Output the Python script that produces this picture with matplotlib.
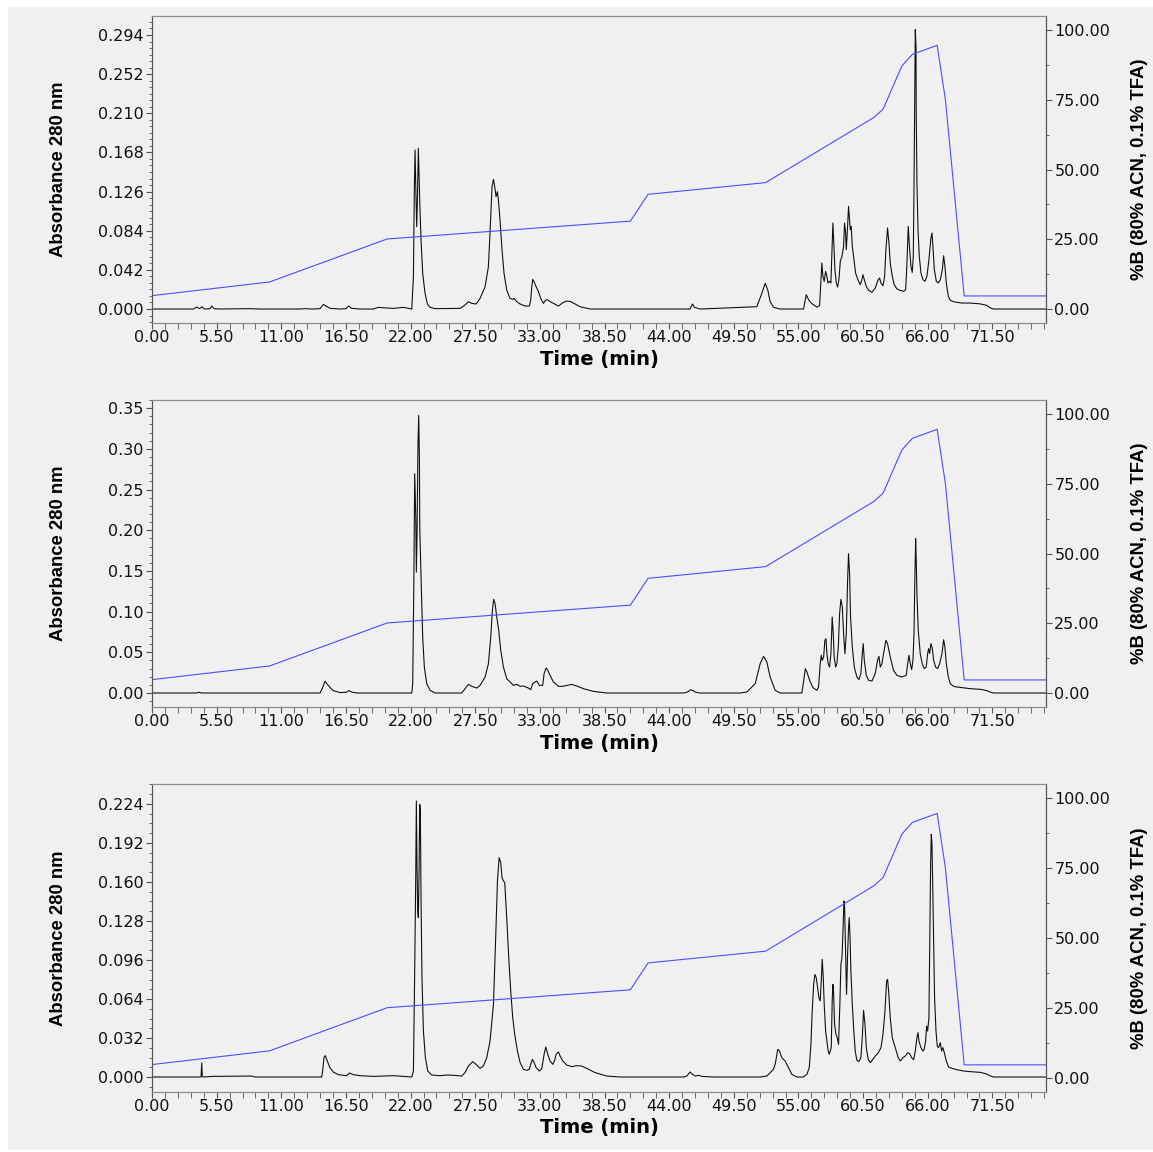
import numpy as np
import matplotlib
matplotlib.use("Agg")
import matplotlib.pyplot as plt
from matplotlib.ticker import MultipleLocator, FormatStrFormatter
from matplotlib.patches import Rectangle
from matplotlib import font_manager

# %B gradient program (right axis), same for all three runs
grad_time = [0.0, 10.0, 20.0, 40.7, 42.2, 52.2, 61.4, 62.2, 63.8, 64.7, 66.8, 67.5, 69.1, 76.06]
grad_pct = [4.8, 9.7, 25.1, 31.5, 41.1, 45.3, 68.6, 71.6, 87.1, 91.3, 94.5, 75.1, 4.7, 4.7]

# absorbance traces: (time [min], A280)
run1 = [
    (0.00, 0.0), (3.52, 0.0), (3.80, 0.0021), (4.03, 0.0004), (4.26, 0.0025), (4.43, 0.0), (4.94, 0.0004),
    (5.08, 0.0032), (5.28, 0.0004), (5.79, 0.0), (8.34, 0.0004), (9.19, 0.0), (12.60, 0.0), (13.02, 0.0004),
    (13.59, 0.0), (14.30, 0.0004), (14.58, 0.0050), (14.81, 0.0032), (15.15, 0.0007), (16.00, 0.0),
    (16.51, 0.0004), (16.71, 0.0032), (16.99, 0.0007), (17.70, 0.0), (18.84, 0.0), (19.26, 0.0018),
    (19.97, 0.0011), (20.54, 0.0007), (21.39, 0.0018), (21.96, 0.0004), (22.10, 0.0),
    (22.24, 0.0347), (22.32, 0.1313), (22.38, 0.1706), (22.44, 0.1313), (22.52, 0.0884), (22.58, 0.1170),
    (22.66, 0.1724), (22.75, 0.1313), (22.80, 0.1062), (22.89, 0.0740), (23.03, 0.0383), (23.23, 0.0168),
    (23.43, 0.0054), (23.66, 0.0018), (24.08, 0.0004), (26.21, 0.0007), (26.63, 0.0043), (26.92, 0.0079),
    (27.20, 0.0061), (27.57, 0.0054), (27.91, 0.0114), (28.34, 0.0240), (28.62, 0.0454), (28.82, 0.0991),
    (28.93, 0.1313), (29.05, 0.1391), (29.16, 0.1313), (29.27, 0.1205), (29.39, 0.1259), (29.47, 0.1170),
    (29.61, 0.0955), (29.78, 0.0633), (29.95, 0.0383), (30.18, 0.0204), (30.46, 0.0114), (30.69, 0.0104),
    (30.83, 0.0114), (31.03, 0.0079), (31.32, 0.0054), (31.74, 0.0032), (32.11, 0.0032), (32.22, 0.0097),
    (32.31, 0.0240), (32.39, 0.0318), (32.51, 0.0293), (32.68, 0.0240), (32.88, 0.0186), (33.07, 0.0114),
    (33.30, 0.0061), (33.50, 0.0097), (33.67, 0.0097), (33.87, 0.0079), (34.15, 0.0061), (34.58, 0.0032),
    (34.95, 0.0068), (35.29, 0.0086), (35.63, 0.0079), (36.00, 0.0054), (36.42, 0.0025), (37.27, 0.0),
    (45.78, 0.0), (45.98, 0.0054), (46.15, 0.0018), (46.64, 0.0), (51.46, 0.0025), (51.88, 0.0168),
    (52.17, 0.0275), (52.39, 0.0204), (52.59, 0.0079), (52.88, 0.0018), (53.44, 0.0),
    (55.43, 0.0), (55.58, 0.0100), (55.66, 0.0154), (55.86, 0.0100), (56.14, 0.0057), (56.57, 0.0021),
    (56.80, 0.0036), (56.91, 0.0315), (56.99, 0.0494), (57.08, 0.0351), (57.19, 0.0297), (57.31, 0.0404),
    (57.42, 0.0351), (57.51, 0.0279), (57.65, 0.0297), (57.76, 0.0279), (57.85, 0.0637), (57.93, 0.0923),
    (58.02, 0.0672), (58.10, 0.0422), (58.22, 0.0279), (58.33, 0.0236), (58.44, 0.0315), (58.56, 0.0512),
    (58.70, 0.0565), (58.84, 0.0672), (58.92, 0.0923), (59.01, 0.0816), (59.07, 0.0637), (59.18, 0.0887),
    (59.26, 0.1102), (59.35, 0.0959), (59.41, 0.0851), (59.49, 0.0887), (59.58, 0.0672), (59.69, 0.0565),
    (59.86, 0.0386), (60.06, 0.0315), (60.26, 0.0261), (60.40, 0.0315), (60.48, 0.0368), (60.60, 0.0315),
    (60.77, 0.0243), (60.97, 0.0200), (61.25, 0.0179), (61.53, 0.0225), (61.76, 0.0308), (61.90, 0.0333),
    (62.02, 0.0279), (62.19, 0.0250), (62.33, 0.0351), (62.44, 0.0637), (62.58, 0.0869), (62.70, 0.0708),
    (62.81, 0.0494), (62.98, 0.0351), (63.15, 0.0261), (63.38, 0.0215), (63.66, 0.0200), (63.95, 0.0190),
    (64.12, 0.0207), (64.23, 0.0494), (64.34, 0.0887), (64.46, 0.0637), (64.57, 0.0458), (64.68, 0.0393),
    (64.77, 0.0565), (64.83, 0.1316), (64.88, 0.2068), (64.94, 0.2998), (65.00, 0.2819), (65.02, 0.2103),
    (65.08, 0.1352), (65.17, 0.0851), (65.28, 0.0565), (65.42, 0.0386), (65.59, 0.0315), (65.76, 0.0297),
    (65.93, 0.0351), (66.10, 0.0529), (66.27, 0.0762), (66.36, 0.0816), (66.44, 0.0672), (66.56, 0.0422),
    (66.73, 0.0297), (66.90, 0.0279), (67.07, 0.0315), (67.24, 0.0422), (67.35, 0.0572), (67.46, 0.0458),
    (67.58, 0.0279), (67.75, 0.0136), (67.92, 0.0093), (68.20, 0.0079), (68.49, 0.0072), (68.91, 0.0064),
    (69.62, 0.0064), (70.47, 0.0055), (71.00, 0.0040), (71.35, 0.0010), (71.60, 0.0), (76.06, 0.0),
]

run2 = [
    (0.00, 0.0), (3.80, 0.0), (4.00, 0.0010), (4.20, 0.0), (14.30, 0.0), (14.50, 0.0060), (14.72, 0.0145),
    (14.95, 0.0100), (15.40, 0.0030), (16.00, 0.0005), (16.55, 0.0010), (16.75, 0.0030), (17.00, 0.0010),
    (17.50, 0.0), (22.10, 0.0),
    (22.18, 0.0115), (22.27, 0.1261), (22.35, 0.2694), (22.44, 0.2162), (22.49, 0.1486), (22.55, 0.1957),
    (22.63, 0.3063), (22.69, 0.3411), (22.75, 0.2899), (22.78, 0.2039), (22.83, 0.1753), (22.92, 0.1261),
    (23.03, 0.0688), (23.17, 0.0319), (23.37, 0.0115), (23.66, 0.0033), (24.08, 0.0), (26.35, 0.0),
    (26.63, 0.0053), (26.92, 0.0106), (27.20, 0.0082), (27.63, 0.0061), (27.91, 0.0094), (28.34, 0.0197),
    (28.62, 0.0360), (28.82, 0.0688), (28.96, 0.1016), (29.07, 0.1151), (29.19, 0.1097), (29.33, 0.0934),
    (29.50, 0.0770), (29.67, 0.0524), (29.90, 0.0319), (30.18, 0.0176), (30.61, 0.0115), (30.75, 0.0094),
    (31.03, 0.0106), (31.32, 0.0082), (31.60, 0.0086), (32.02, 0.0061), (32.22, 0.0041), (32.39, 0.0115),
    (32.59, 0.0135), (32.73, 0.0147), (32.96, 0.0094), (33.24, 0.0094), (33.36, 0.0238), (33.53, 0.0307),
    (33.67, 0.0278), (33.87, 0.0217), (34.15, 0.0135), (34.58, 0.0082), (34.95, 0.0082), (35.43, 0.0098),
    (35.71, 0.0106), (36.14, 0.0086), (36.71, 0.0053), (37.56, 0.0020), (38.69, 0.0), (45.22, 0.0),
    (45.56, 0.0012), (45.84, 0.0041), (46.07, 0.0025), (46.29, 0.0008), (46.64, 0.0), (50.04, 0.0),
    (50.61, 0.0012), (51.32, 0.0115), (51.74, 0.0360), (52.03, 0.0450), (52.31, 0.0381), (52.59, 0.0197),
    (53.02, 0.0033), (53.44, 0.0),
    (55.29, 0.0), (55.43, 0.0135), (55.58, 0.0299), (55.72, 0.0258), (55.95, 0.0156), (56.23, 0.0066),
    (56.57, 0.0033), (56.71, 0.0074), (56.85, 0.0360), (56.94, 0.0463), (57.02, 0.0401), (57.14, 0.0442),
    (57.25, 0.0647), (57.34, 0.0667), (57.42, 0.0483), (57.53, 0.0360), (57.65, 0.0319), (57.76, 0.0483),
    (57.87, 0.0934), (57.96, 0.0729), (58.04, 0.0442), (58.16, 0.0319), (58.27, 0.0360), (58.39, 0.0565),
    (58.50, 0.0975), (58.61, 0.1151), (58.73, 0.1057), (58.84, 0.0729), (58.95, 0.0483), (59.07, 0.0729),
    (59.18, 0.1384), (59.26, 0.1712), (59.35, 0.1466), (59.43, 0.0934), (59.58, 0.0565), (59.75, 0.0319),
    (59.97, 0.0197), (60.14, 0.0164), (60.31, 0.0238), (60.43, 0.0483), (60.51, 0.0606), (60.60, 0.0401),
    (60.77, 0.0217), (60.97, 0.0156), (61.25, 0.0147), (61.53, 0.0238), (61.73, 0.0401), (61.85, 0.0450),
    (61.96, 0.0319), (62.10, 0.0360), (62.24, 0.0483), (62.44, 0.0647), (62.58, 0.0606), (62.81, 0.0442),
    (63.09, 0.0278), (63.38, 0.0217), (63.80, 0.0197), (64.17, 0.0217), (64.29, 0.0360), (64.40, 0.0463),
    (64.51, 0.0360), (64.63, 0.0287), (64.74, 0.0401), (64.83, 0.0729), (64.91, 0.1466), (64.97, 0.1896),
    (65.02, 0.1630), (65.08, 0.1220), (65.19, 0.0770), (65.36, 0.0483), (65.53, 0.0360), (65.70, 0.0299),
    (65.87, 0.0319), (65.99, 0.0483), (66.07, 0.0545), (66.16, 0.0483), (66.27, 0.0606), (66.39, 0.0545),
    (66.50, 0.0401), (66.67, 0.0319), (66.84, 0.0299), (67.01, 0.0360), (67.21, 0.0483), (67.35, 0.0655),
    (67.46, 0.0565), (67.58, 0.0360), (67.75, 0.0197), (67.92, 0.0115), (68.20, 0.0082), (68.49, 0.0074),
    (68.91, 0.0066), (69.62, 0.0053), (70.50, 0.0045), (71.00, 0.0030), (71.35, 0.0010), (71.60, 0.0),
    (76.06, 0.0),
]

run3 = [
    (0.00, 0.0), (3.52, 0.0), (4.17, 0.0), (4.23, 0.0115), (4.28, 0.0005), (4.37, 0.0), (5.08, 0.0005),
    (8.48, 0.0008), (8.77, 0.0), (14.44, 0.0), (14.53, 0.0060), (14.64, 0.0164), (14.75, 0.0175),
    (14.92, 0.0129), (15.15, 0.0074), (15.43, 0.0041), (15.86, 0.0019), (16.57, 0.0011), (16.79, 0.0033),
    (17.14, 0.0019), (17.70, 0.0011), (18.84, 0.0005), (20.54, 0.0011), (22.10, 0.0),
    (22.24, 0.0049), (22.35, 0.0870), (22.44, 0.1663), (22.49, 0.2265), (22.55, 0.1690), (22.61, 0.1362),
    (22.66, 0.1307), (22.72, 0.1690), (22.78, 0.2237), (22.83, 0.2183), (22.89, 0.1444), (22.97, 0.0815),
    (23.09, 0.0377), (23.26, 0.0159), (23.46, 0.0049), (23.80, 0.0016), (24.51, 0.0011), (25.07, 0.0016),
    (25.64, 0.0014), (26.35, 0.0008), (26.63, 0.0036), (26.92, 0.0090), (27.29, 0.0126), (27.57, 0.0104),
    (27.91, 0.0071), (28.19, 0.0090), (28.48, 0.0159), (28.76, 0.0295), (29.05, 0.0596), (29.24, 0.1143),
    (29.39, 0.1608), (29.53, 0.1800), (29.67, 0.1759), (29.78, 0.1636), (29.90, 0.1608), (30.01, 0.1595),
    (30.18, 0.1307), (30.35, 0.0979), (30.52, 0.0706), (30.69, 0.0487), (30.86, 0.0350), (31.09, 0.0213),
    (31.32, 0.0118), (31.60, 0.0063), (31.88, 0.0055), (32.11, 0.0063), (32.22, 0.0104), (32.37, 0.0145),
    (32.51, 0.0118), (32.68, 0.0077), (32.96, 0.0049), (33.16, 0.0068), (33.36, 0.0186), (33.50, 0.0246),
    (33.67, 0.0186), (33.87, 0.0131), (34.10, 0.0104), (34.24, 0.0131), (34.38, 0.0186), (34.58, 0.0205),
    (34.72, 0.0172), (34.95, 0.0131), (35.29, 0.0098), (35.71, 0.0085), (36.14, 0.0093), (36.56, 0.0090),
    (36.99, 0.0071), (37.70, 0.0036), (38.69, 0.0008), (39.83, 0.0), (45.22, 0.0), (45.50, 0.0008),
    (45.78, 0.0041), (45.98, 0.0022), (46.21, 0.0008), (46.49, 0.0014), (46.78, 0.0005), (47.77, 0.0),
    (51.74, 0.0), (52.31, 0.0008), (52.59, 0.0036), (52.87, 0.0063), (53.02, 0.0104), (53.24, 0.0227),
    (53.39, 0.0213), (53.58, 0.0159), (53.87, 0.0131), (54.15, 0.0077), (54.44, 0.0022), (54.86, 0.0),
    (55.43, 0.0),
    (55.72, 0.0022), (55.92, 0.0077), (56.06, 0.0268), (56.17, 0.0542), (56.29, 0.0760), (56.40, 0.0842),
    (56.51, 0.0815), (56.63, 0.0733), (56.74, 0.0651), (56.85, 0.0624), (56.94, 0.0788), (57.02, 0.0965),
    (57.11, 0.0815), (57.19, 0.0596), (57.31, 0.0377), (57.42, 0.0295), (57.53, 0.0213), (57.62, 0.0186),
    (57.70, 0.0213), (57.79, 0.0241), (57.87, 0.0624), (57.93, 0.0760), (57.99, 0.0692), (58.07, 0.0432),
    (58.19, 0.0350), (58.30, 0.0323), (58.41, 0.0268), (58.53, 0.0624), (58.61, 0.0924), (58.70, 0.0979),
    (58.78, 0.1171), (58.87, 0.1444), (58.92, 0.1417), (58.98, 0.1143), (59.04, 0.0842), (59.09, 0.0678),
    (59.18, 0.1006), (59.26, 0.1225), (59.32, 0.1307), (59.38, 0.1171), (59.46, 0.0870), (59.58, 0.0596),
    (59.69, 0.0405), (59.83, 0.0213), (59.97, 0.0137), (60.14, 0.0126), (60.31, 0.0159), (60.43, 0.0323),
    (60.54, 0.0547), (60.66, 0.0432), (60.77, 0.0241), (60.94, 0.0145), (61.11, 0.0118), (61.34, 0.0145),
    (61.53, 0.0172), (61.73, 0.0191), (61.87, 0.0213), (62.02, 0.0241), (62.19, 0.0350), (62.36, 0.0542),
    (62.50, 0.0788), (62.58, 0.0801), (62.67, 0.0706), (62.81, 0.0487), (62.98, 0.0323), (63.15, 0.0268),
    (63.32, 0.0213), (63.49, 0.0159), (63.66, 0.0131), (63.89, 0.0159), (64.09, 0.0172), (64.29, 0.0200),
    (64.46, 0.0191), (64.63, 0.0159), (64.80, 0.0142), (64.94, 0.0213), (65.08, 0.0323), (65.17, 0.0364),
    (65.25, 0.0295), (65.42, 0.0241), (65.59, 0.0213), (65.70, 0.0227), (65.82, 0.0295), (65.90, 0.0418),
    (65.99, 0.0377), (66.10, 0.0487), (66.19, 0.1253), (66.24, 0.1718), (66.30, 0.1991), (66.36, 0.1909),
    (66.41, 0.1636), (66.50, 0.1089), (66.58, 0.0651), (66.70, 0.0377), (66.81, 0.0254), (66.92, 0.0241),
    (67.07, 0.0282), (67.18, 0.0213), (67.29, 0.0241), (67.41, 0.0200), (67.58, 0.0131), (67.78, 0.0082),
    (68.06, 0.0071), (68.49, 0.0060), (69.05, 0.0049), (69.62, 0.0044), (70.50, 0.0038), (71.00, 0.0025),
    (71.35, 0.0008), (71.60, 0.0), (76.06, 0.0),
]

runs = [run1, run2, run3]
x_max = 76.06
y_limits = [(-0.0150, 0.3144), (-0.0172, 0.3600), (-0.0123, 0.2404)]
y_major = [0.042, 0.05, 0.032]
y_minor = [0.007, 0.01, 0.008]
y_fmt = ['%.3f', '%.2f', '%.3f']

plt.rcParams['font.family'] = 'DejaVu Sans'

available = {f.name for f in font_manager.fontManager.ttflist}
label_family = 'Liberation Sans Narrow' if 'Liberation Sans Narrow' in available else 'Liberation Sans'
label_size = 16 if label_family == 'Liberation Sans Narrow' else 13.3

bg = '#f0f0f0'
fig = plt.figure(figsize=(11.53, 11.52), dpi=100)
fig.patch.set_facecolor('white')
fig.add_artist(Rectangle((8 / 1153, 2 / 1152), 1145 / 1153, 1143 / 1152, transform=fig.transFigure,
                         facecolor=bg, edgecolor='none', zorder=-10))

left, width = 152 / 1153, 894 / 1153
tops = [16, 400, 784]
heights = [307, 307, 308]

for i, run in enumerate(runs):
    data = np.array(run)
    bottom = 1 - (tops[i] + heights[i]) / 1152
    ax = fig.add_axes([left, bottom, width, heights[i] / 1152])
    ax.set_facecolor(bg)
    ax.plot(data[:, 0], data[:, 1], color='#111111', lw=0.8)
    ax.set_xlim(0, x_max)
    ax.set_ylim(*y_limits[i])

    ax.xaxis.set_major_locator(MultipleLocator(5.5))
    ax.xaxis.set_minor_locator(MultipleLocator(1.1))
    ax.xaxis.set_major_formatter(FormatStrFormatter('%.2f'))
    ax.yaxis.set_major_locator(MultipleLocator(y_major[i]))
    ax.yaxis.set_minor_locator(MultipleLocator(y_minor[i]))
    ax.yaxis.set_major_formatter(FormatStrFormatter(y_fmt[i]))
    ax.tick_params(axis='both', which='both', direction='out', colors='#555555', labelcolor='#111111',
                   labelsize=11.5)
    ax.tick_params(axis='x', which='both', length=4, pad=1)
    ax.tick_params(axis='y', which='major', length=4, pad=2)
    ax.tick_params(axis='y', which='minor', length=2.5)

    ax.set_xlabel('Time (min)', fontsize=14, fontweight='bold', va='center')
    ax.xaxis.set_label_coords(0.5, -36 / heights[i])
    ax.set_ylabel('Absorbance 280 nm', family=label_family, fontsize=label_size, fontweight='bold',
                  va='center')
    ax.yaxis.set_label_coords(-93 / 894, 0.5)

    ax2 = ax.twinx()
    ax2.plot(grad_time, grad_pct, color='#4d4dff', lw=0.8)
    ax2.set_ylim(-5.0, 105.0)
    ax2.yaxis.set_major_locator(MultipleLocator(25))
    ax2.yaxis.set_minor_locator(MultipleLocator(12.5))
    ax2.yaxis.set_major_formatter(FormatStrFormatter('%.2f'))
    ax2.tick_params(axis='y', which='both', direction='out', colors='#555555', labelcolor='#111111',
                    labelsize=11.5)
    ax2.tick_params(axis='y', which='major', length=4, pad=2)
    ax2.tick_params(axis='y', which='minor', length=2.5)
    ax2.set_ylabel('%B (80% ACN, 0.1% TFA)', family=label_family, fontsize=label_size, fontweight='bold',
                   va='center')
    ax2.yaxis.set_label_coords(1 + 93 / 894, 0.5)

    for a in (ax, ax2):
        a.spines['top'].set_color('#8c8c8c')
        a.spines['bottom'].set_color('#8c8c8c')
        a.spines['left'].set_color('#555555')
        a.spines['right'].set_color('#555555')

fig.savefig('out.png', dpi=100, facecolor=fig.get_facecolor())
